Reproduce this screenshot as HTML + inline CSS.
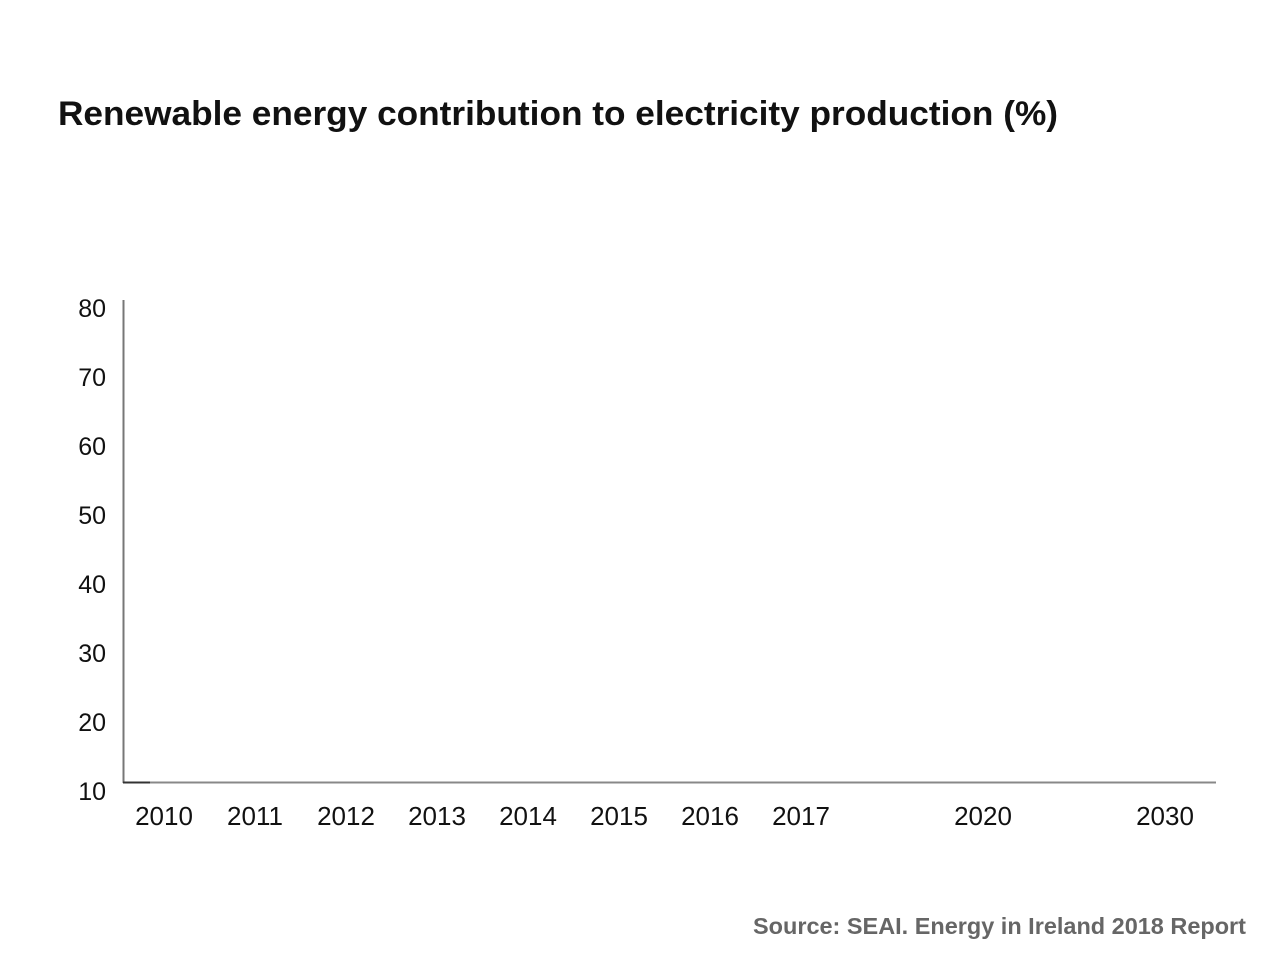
<!DOCTYPE html>
<html><head><style>
body{margin:0;background:#fff;width:1280px;height:956px;overflow:hidden;font-family:"Liberation Sans",Arial,sans-serif;}
</style></head><body>
<svg width="1280" height="956" xmlns="http://www.w3.org/2000/svg" font-family="Liberation Sans, Arial, sans-serif">
<text x="58" y="125" font-size="34" font-weight="bold" fill="#111" textLength="1000" lengthAdjust="spacingAndGlyphs">Renewable energy contribution to electricity production (%)</text>
<line x1="123.5" y1="300" x2="123.5" y2="783" stroke="#777" stroke-width="2"/>
<line x1="123" y1="782.5" x2="1216" y2="782.5" stroke="#888" stroke-width="2"/>
<line x1="123" y1="782.5" x2="150" y2="782.5" stroke="#333" stroke-width="2"/>
<g font-size="25" fill="#111" text-anchor="end">
<text x="106" y="317">80</text><text x="106" y="386">70</text><text x="106" y="455">60</text><text x="106" y="524">50</text><text x="106" y="593">40</text><text x="106" y="662">30</text><text x="106" y="731">20</text><text x="106" y="800">10</text>
</g>
<g font-size="26" fill="#111" text-anchor="middle">
<text x="164" y="825">2010</text><text x="255" y="825">2011</text><text x="346" y="825">2012</text><text x="437" y="825">2013</text><text x="528" y="825">2014</text><text x="619" y="825">2015</text><text x="710" y="825">2016</text><text x="801" y="825">2017</text><text x="983" y="825">2020</text><text x="1165" y="825">2030</text>
</g>
<text x="753" y="934" font-size="23" font-weight="bold" fill="#666" textLength="493" lengthAdjust="spacingAndGlyphs">Source: SEAI. Energy in Ireland 2018 Report</text>
</svg>
</body></html>
